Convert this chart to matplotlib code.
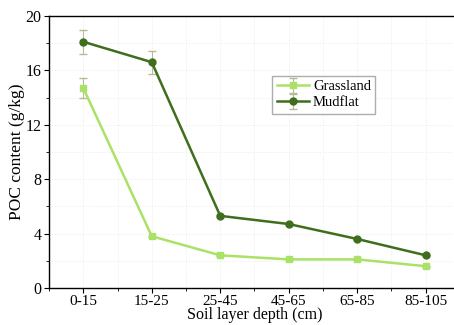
import numpy as np
import matplotlib.pyplot as plt
from matplotlib.ticker import MultipleLocator

plt.rcParams['font.family'] = ['Liberation Serif', 'DejaVu Serif']

depths = ["0-15", "15-25", "25-45", "45-65", "65-85", "85-105"]
grassland = [14.7, 3.8, 2.4, 2.1, 2.1, 1.6]
grassland_err = [0.75, 0.05, 0.05, 0.05, 0.05, 0.05]
mudflat = [18.1, 16.6, 5.3, 4.7, 3.6, 2.4]
mudflat_err = [0.9, 0.85, 0.05, 0.05, 0.05, 0.05]

fig = plt.figure(figsize=(4.54, 3.25), dpi=100)
ax = fig.add_axes([0.108, 0.114, 0.905, 0.837])

x = np.arange(len(depths))
ax.errorbar(x, grassland, yerr=grassland_err, color='#a9e266', marker='s', markersize=5,
            linewidth=1.8, ecolor='#b8b89a', elinewidth=0.8, capsize=3, label='Grassland')
ax.errorbar(x, mudflat, yerr=mudflat_err, color='#3f6e1c', marker='o', markersize=5,
            linewidth=1.8, ecolor='#b8b89a', elinewidth=0.8, capsize=3, label='Mudflat')

ax.set_xlim(-0.5, 5.5)
ax.set_ylim(0, 20)
ax.set_xticks(x)
ax.set_xticklabels(depths)
ax.xaxis.set_minor_locator(MultipleLocator(0.5))
ax.yaxis.set_major_locator(MultipleLocator(4))
ax.yaxis.set_minor_locator(MultipleLocator(2))
ax.tick_params(which='major', direction='out', length=3.5, labelsize=11.5, pad=2)
ax.tick_params(axis='x', which='major', labelsize=11, pad=1.5)
ax.tick_params(which='minor', direction='out', length=2.5)
ax.grid(which='both', color='#ececec', linestyle=':', linewidth=0.7)
ax.set_axisbelow(True)
for s in ax.spines.values():
    s.set_linewidth(1.0)

ax.set_xlabel('Soil layer depth (cm)', fontsize=11.5, labelpad=-0.5)
ax.set_ylabel('POC content (g/kg)', fontsize=12.5, labelpad=0)

ax.legend(loc='upper left', bbox_to_anchor=(0.543, 0.78), fontsize=10.5, frameon=True,
          fancybox=False, edgecolor='#999999', handlelength=2.2, borderpad=0.3,
          labelspacing=0.2, handletextpad=0.3, borderaxespad=0)

fig.savefig('out.png', dpi=100)
